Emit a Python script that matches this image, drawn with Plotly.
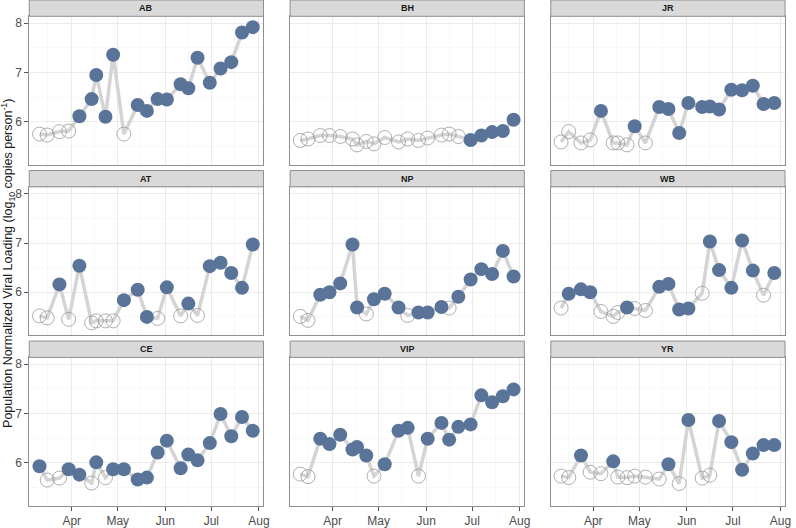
import plotly.graph_objects as go

# ---------------- data ----------------
dates = ["2021-03-11", "2021-03-16", "2021-03-24", "2021-03-30", "2021-04-06",
         "2021-04-14", "2021-04-17", "2021-04-23", "2021-04-28", "2021-05-05",
         "2021-05-14", "2021-05-20", "2021-05-27", "2021-06-02", "2021-06-11",
         "2021-06-16", "2021-06-22", "2021-06-30", "2021-07-07", "2021-07-14",
         "2021-07-21", "2021-07-28"]

sites = ["AB", "BH", "JR", "AT", "NP", "WB", "CE", "VIP", "YR"]

AB = [5.75, 5.73, 5.80, 5.81, 6.11, 6.46, 6.95, 6.10, 7.36, 5.75, 6.34, 6.22,
      6.46, 6.45, 6.76, 6.68, 7.30, 6.79, 7.08, 7.21, 7.81, 7.92]
AB_detect = [0, 0, 0, 0, 1, 1, 1, 1, 1, 0, 1, 1, 1, 1, 1, 1, 1, 1, 1, 1, 1, 1]

BH = [5.62, 5.65, 5.72, 5.72, 5.70, 5.65, 5.53, 5.60, 5.55, 5.68, 5.59, 5.65,
      5.62, 5.67, 5.73, 5.75, 5.70, 5.63, 5.72, 5.79, 5.81, 6.04]
BH_detect = [0, 0, 0, 0, 0, 0, 0, 0, 0, 0, 0, 0, 0, 0, 0, 0, 0, 1, 1, 1, 1, 1]

JR = [5.59, 5.80, 5.57, 5.63, 6.22, 5.57, 5.57, 5.53, 5.91, 5.57, 6.30, 6.26,
      5.77, 6.38, 6.30, 6.31, 6.25, 6.65, 6.64, 6.73, 6.36, 6.38]
JR_detect = [0, 0, 0, 0, 1, 0, 0, 0, 1, 0, 1, 1, 1, 1, 1, 1, 1, 1, 1, 1, 1, 1]

AT = [5.52, 5.48, 6.16, 5.45, 6.54, 5.38, 5.42, 5.42, 5.42, 5.84, 6.05, 5.50,
      5.47, 6.10, 5.52, 5.77, 5.53, 6.53, 6.60, 6.39, 6.09, 6.97]
AT_detect = [0, 0, 1, 0, 1, 0, 0, 0, 0, 1, 1, 1, 0, 1, 0, 1, 0, 1, 1, 1, 1, 1]

NP = [5.51, 5.43, 5.95, 6.00, 6.18, 6.97, 5.69, 5.56, 5.86, 5.97, 5.69, 5.53,
      5.59, 5.59, 5.70, 5.68, 5.91, 6.26, 6.47, 6.37, 6.84, 6.32]
NP_detect = [0, 0, 1, 1, 1, 1, 1, 0, 1, 1, 1, 0, 1, 1, 1, 0, 1, 1, 1, 1, 1, 1]

WB = [5.68, 5.97, 6.06, 6.00, 5.61, 5.51, 5.59, 5.69, 5.67, 5.63, 6.11, 6.17,
      5.65, 5.67, 5.98, 7.03, 6.45, 6.09, 7.05, 6.44, 5.94, 6.39]
WB_detect = [0, 1, 1, 1, 0, 0, 0, 1, 0, 0, 1, 1, 1, 1, 0, 1, 1, 1, 1, 1, 0, 1]

CE = [5.93, 5.65, 5.69, 5.87, 5.76, 5.59, 6.01, 5.70, 5.87, 5.87, 5.66, 5.70,
      6.21, 6.45, 5.89, 6.17, 6.05, 6.40, 6.99, 6.54, 6.93, 6.65]
CE_detect = [1, 0, 0, 1, 1, 0, 1, 0, 1, 1, 1, 1, 1, 1, 1, 1, 1, 1, 1, 1, 1, 1]

VIP = [5.77, 5.72, 6.49, 6.38, 6.57, 6.27, 6.32, 6.15, 5.73, 5.97, 6.65, 6.71,
       5.73, 6.49, 6.81, 6.47, 6.73, 6.78, 7.37, 7.23, 7.35, 7.49]
VIP_detect = [0, 0, 1, 1, 1, 1, 1, 1, 0, 1, 1, 1, 0, 1, 1, 1, 1, 1, 1, 1, 1, 1]

YR = [5.73, 5.70, 6.15, 5.81, 5.78, 6.03, 5.71, 5.70, 5.73, 5.71, 5.67, 5.97,
      5.58, 6.87, 5.69, 5.75, 6.85, 6.42, 5.86, 6.19, 6.36, 6.36]
YR_detect = [0, 0, 1, 0, 0, 1, 0, 0, 0, 0, 0, 1, 0, 1, 0, 0, 1, 1, 1, 1, 1, 1]

values = {"AB": AB, "BH": BH, "JR": JR, "AT": AT, "NP": NP, "WB": WB,
          "CE": CE, "VIP": VIP, "YR": YR}
detect = {"AB": AB_detect, "BH": BH_detect, "JR": JR_detect, "AT": AT_detect,
          "NP": NP_detect, "WB": WB_detect, "CE": CE_detect, "VIP": VIP_detect,
          "YR": YR_detect}

y_ticks = [6, 7, 8]
y_minor = [5.5, 6.5, 7.5]

# ---------------- layout geometry ----------------
W, H = 796, 528
col_px = [(29.5, 265.5), (292.3, 528.3), (555.0, 791.0)]
row_px = [(16.5, 166.5), (189.0, 339.0), (361.5, 511.5)]
strip_h = 16.5
x_range = ["2021-03-04 08:00", "2021-08-04 00:00"]
y_range = [5.13, 8.14]

FONT = "Liberation Sans, Arial, sans-serif"
BORDER = "#8f8f8f"
GRID = "#ebebeb"
GRID_MINOR = "#f3f3f3"
LINE_COL = "#d4d4d4"
FILL_COL = "#5a7499"
OPEN_COL = "#9a9a9a"

fig = go.Figure()
layout = dict(
    width=W, height=H,
    margin=dict(l=0, r=0, t=0, b=0),
    paper_bgcolor="white", plot_bgcolor="white",
    showlegend=False,
    font=dict(family=FONT, size=12, color="#4d4d4d"),
)
shapes = []
annotations = []

for i, site in enumerate(sites):
    r, c = divmod(i, 3)
    k = i + 1
    xs = "" if k == 1 else str(k)
    x0, x1 = col_px[c]
    top, bot = row_px[r]

    layout["xaxis" + xs] = dict(
        domain=[x0 / W, x1 / W], anchor="y" + xs, type="date",
        range=x_range, tick0="2021-04-01", dtick="M1", tickformat="%b",
        showticklabels=(r == 2), ticks="outside" if r == 2 else "",
        ticklen=4, tickcolor="#555555", tickwidth=1,
        tickfont=dict(size=12, color="#4d4d4d", family=FONT),
        showgrid=True, gridcolor=GRID, gridwidth=1,
        minor=dict(tick0="2021-03-16", dtick="M1", showgrid=True,
                   gridcolor=GRID_MINOR, gridwidth=0.6, ticks=""),
        showline=True, mirror=True, linecolor=BORDER, linewidth=1,
        zeroline=False, fixedrange=True,
    )
    layout["yaxis" + xs] = dict(
        domain=[1 - bot / H, 1 - top / H], anchor="x" + xs,
        range=y_range, tickvals=y_ticks,
        showticklabels=(c == 0), ticks="outside" if c == 0 else "",
        ticklen=4, tickcolor="#555555", tickwidth=1,
        tickfont=dict(size=12, color="#4d4d4d", family=FONT),
        showgrid=True, gridcolor=GRID, gridwidth=1,
        minor=dict(tickvals=y_minor, showgrid=True, gridcolor=GRID_MINOR,
                   gridwidth=0.6, ticks=""),
        showline=True, mirror=True, linecolor=BORDER, linewidth=1,
        zeroline=False, fixedrange=True,
    )

    # strip
    shapes.append(dict(type="rect", xref="paper", yref="paper",
                       x0=x0 / W, x1=x1 / W,
                       y0=1 - top / H, y1=1 - (top - strip_h) / H,
                       fillcolor="#d9d9d9", line=dict(color=BORDER, width=1),
                       layer="above"))
    annotations.append(dict(xref="paper", yref="paper",
                            x=(x0 + x1) / 2 / W, y=1 - (top - strip_h / 2) / H,
                            text="<b>%s</b>" % site, showarrow=False,
                            xanchor="center", yanchor="middle",
                            font=dict(size=9, color="#1a1a1a", family=FONT)))

    v = values[site]
    d = detect[site]
    fig.add_trace(go.Scatter(x=dates, y=v, mode="lines",
                             line=dict(color=LINE_COL, width=3.5),
                             xaxis="x" + xs, yaxis="y" + xs, hoverinfo="skip"))
    ox = [dt for dt, f in zip(dates, d) if f == 0]
    oy = [val for val, f in zip(v, d) if f == 0]
    fx = [dt for dt, f in zip(dates, d) if f == 1]
    fy = [val for val, f in zip(v, d) if f == 1]
    fig.add_trace(go.Scatter(x=ox, y=oy, mode="markers",
                             marker=dict(symbol="circle-open", size=14,
                                         color=OPEN_COL, line=dict(width=0.8)),
                             xaxis="x" + xs, yaxis="y" + xs))
    fig.add_trace(go.Scatter(x=fx, y=fy, mode="markers",
                             marker=dict(symbol="circle", size=14,
                                         color=FILL_COL, line=dict(width=0)),
                             xaxis="x" + xs, yaxis="y" + xs))

annotations.append(dict(xref="paper", yref="paper", x=8 / W, y=1 - 266 / H,
                        text="Population Normalized Viral Loading (log<sub>10</sub> copies person<sup>-1</sup>)",
                        textangle=-90, showarrow=False,
                        xanchor="center", yanchor="middle",
                        font=dict(size=12.5, color="#1a1a1a", family=FONT)))

layout["shapes"] = shapes
layout["annotations"] = annotations
fig.update_layout(**layout)
fig.write_html("out.html",
               config={"displayModeBar": False, "staticPlot": True},
               post_script="document.body.style.margin='0px';"
                           "document.body.style.padding='0px';"
                           "document.body.style.overflow='hidden';")
